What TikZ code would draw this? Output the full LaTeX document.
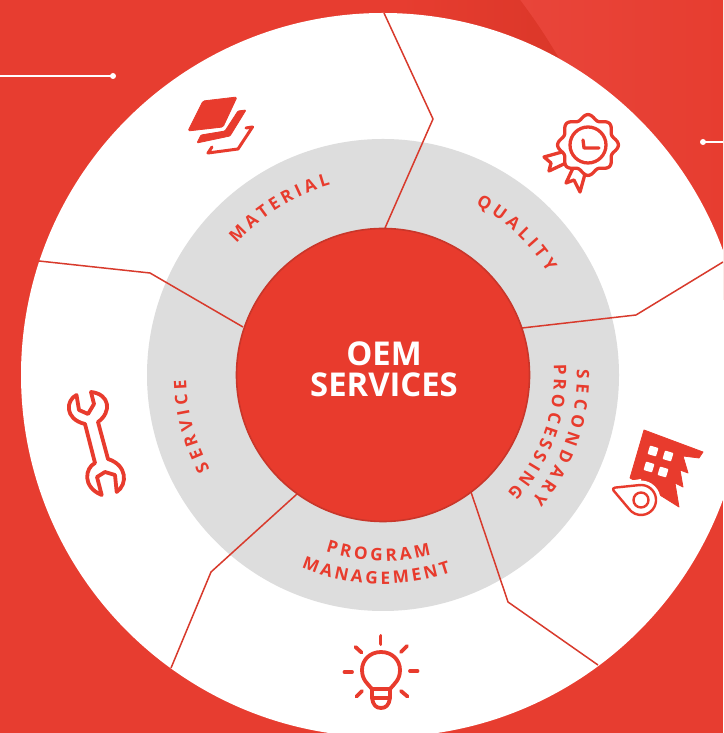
\documentclass[tikz,border=0pt]{standalone}
\usepackage{fontspec}
\setmainfont{Open Sans}
\usetikzlibrary{decorations.text}
\definecolor{brand}{HTML}{E83B2D}
\definecolor{bgbase}{HTML}{E73D30}
\definecolor{bglight}{HTML}{E8453A}
\definecolor{bgdark}{HTML}{DB3729}
\definecolor{branddark}{HTML}{C9362A}
\definecolor{linered}{HTML}{D83A2C}
\definecolor{ringgray}{HTML}{DDDDDD}
\newcommand{\lab}{\fontsize{17.2}{17.2}\selectfont\bfseries}
\tikzset{
  x=1pt,y=1pt,
  sector/.style={draw=linered,line width=1.5pt,line join=miter},
  icon/.style={draw=brand,line width=3.8pt,line cap=round,line join=round},
  iconfill/.style={fill=brand,draw=brand,line width=.8pt,line join=round},
  leader/.style={draw=white,line width=1.6pt},
  pip/.style={fill=white,draw=none},
  titletext/.style={text=white,font=\fontsize{32.8}{32.8}\selectfont\bfseries,inner sep=0pt},
}
\newcommand{\arclabel}[4]{%
  \path[decorate,decoration={text along path,text={|\lab\color{brand}|#1},text align={fit to path}}]
    (383,358) ++(#2:#4) arc[start angle=#2,end angle=#3,radius=#4];
}
\begin{document}
\begin{tikzpicture}[x=1pt,y=1pt]
\useasboundingbox (0,0) rectangle (723,733);
\clip (0,0) rectangle (723,733);
\fill[bgbase] (0,0) rectangle (723,733);
\begin{scope}[shift={(0,733)},yscale=-1]
  \shade[left color=bglight,right color=bgbase] (520,0) .. controls (535,20) and (545,35) .. (560,60) -- (723,300) -- (723,0) -- cycle;
  \shade[left color=bgbase,right color=bgdark] (400,0) -- (520,0) .. controls (535,20) and (545,35) .. (560,60) -- (400,60) -- cycle;
  \coordinate (c) at (383,375);
  \fill[white] (c) circle[radius=362];
  \fill[ringgray] (c) circle[radius=236];
  % leader lines
  \coordinate (la) at (0,76); \coordinate (lb) at (113,76);
  \coordinate (ra) at (703,142); \coordinate (rb) at (723,142);
  \draw[leader] (la) -- (lb);
  \fill[pip] (lb) circle[radius=3];
  \draw[leader] (ra) -- (rb);
  \fill[pip] (ra) circle[radius=3];
  % sector boundaries
  \coordinate (s1a) at (384,13);  \coordinate (s1b) at (433,119); \coordinate (s1c) at (385,228);
  \coordinate (s2a) at (723,262); \coordinate (s2b) at (636,315); \coordinate (s2c) at (522,328);
  \coordinate (s3a) at (598,665); \coordinate (s3b) at (508,602); \coordinate (s3c) at (471,492);
  \coordinate (s4a) at (171,668); \coordinate (s4b) at (211,572); \coordinate (s4c) at (297,494);
  \coordinate (s5a) at (39,261);  \coordinate (s5b) at (150,273); \coordinate (s5c) at (243,327);
  \draw[sector] (s1a) -- (s1b) -- (s1c);
  \draw[sector] (s2a) -- (s2b) -- (s2c);
  \draw[sector] (s3a) -- (s3b) -- (s3c);
  \draw[sector] (s4a) -- (s4b) -- (s4c);
  \draw[sector] (s5a) -- (s5b) -- (s5c);
  \filldraw[fill=brand,draw=branddark,line width=1.6pt] (c) circle[radius=146.5];
  % material icon
  \fill[iconfill,rounded corners=1.5pt] (203,101) -- (237,97) -- (223,127) -- (188,131) -- cycle;
  \fill[iconfill,rounded corners=1pt] (238,111) -- (246,110) -- (230,136) -- (197,143) -- (201,135) -- (225,131) -- cycle;
  \draw[brand,line width=3pt,line join=round,line cap=round] (212,147) -- (208,153) -- (238,149) -- (252.5,127) -- (246,128);
  % quality icon
  \draw[icon,fill=white,line width=3.3pt] (562,152) -- (544,157) -- (551,163) -- (549,171) -- (566,163);
  \draw[icon,fill=white,line width=3.3pt] (573,168) -- (566,183) -- (574,180) -- (580,192) -- (585,174);
  \draw[icon,fill=white,line width=3.3pt] plot[domain=0:360,samples=160,smooth] ({588+(28+2.4*cos(8*\x))*cos(\x)},{145+(28+2.4*cos(8*\x))*sin(\x)}) -- cycle;
  \draw[icon,line width=3.3pt] (588,145) circle[radius=18];
  \draw[icon,line width=3.3pt] (583,140) -- (584,148) -- (599,148);
  % factory icon
  \fill[iconfill] (644,430) -- (703,452) -- (699,458) -- (683,456) -- (688,473) -- (680,470) -- (683,487) -- (675,483) -- (679,507) -- (655,492) -- (630,478) -- cycle;
  \foreach \wx/\wy in {653/451,668/456,649/467,663/472}
    \fill[white,rotate around={17:(\wx,\wy)},rounded corners=.8pt] (\wx-4.4,\wy-4.4) rectangle (\wx+4.4,\wy+4.4);
  \fill[white] (641,500) circle[radius=19.5];
  \fill[white] (610,484) -- (641,479) -- (641,520) -- cycle;
  \draw[brand,line width=2.4pt,line join=round,fill=white] (615,487.6) -- (639.2,485.1) arc[start angle=-97,end angle=144.7,radius=15] -- (613.5,490.5) .. controls (612.5,489) and (613,488) .. (615,487.6) -- cycle;
  \draw[brand,line width=2.4pt] (641,500) circle[radius=7.5];
  % bulb icon
  \draw[icon] (372,689) .. controls (368,684) and (362,680) .. (362,670) .. controls (362,660) and (370,652) .. (381,652) .. controls (392,652) and (400,660) .. (400,670) .. controls (400,680) and (394,684) .. (390,689) -- cycle;
  \draw[icon] (372,689) -- (372,698) -- (390,698) -- (390,689);
  \draw[icon] (372,698) .. controls (373,705) and (376,708) .. (381,708) .. controls (386,708) and (389,705) .. (390,698);
  \draw[icon] (380.5,636) -- (380.5,644);
  \draw[icon] (344.5,672) -- (352,672);
  \draw[icon] (410,671) -- (417.5,671);
  \draw[icon] (355.5,647) -- (361.5,652.5);
  \draw[icon] (407,646) -- (401,652);
  \draw[icon] (362,691) -- (356.5,696.5);
  \draw[icon] (401,691) -- (407.5,696.5);
  % wrench icon
  \draw[icon] (76.5,395) .. controls (66,400) and (64,419) .. (85,424) -- (95,463) .. controls (85,468) and (82,487) .. (101.7,495) -- (97,477) -- (105,472) -- (115,475) -- (116.7,492) .. controls (128,484) and (127,465) .. (108,459) -- (98,422) .. controls (112,412) and (110,394) .. (91,392) -- (94,404) -- (88,414) -- (79,410) -- cycle;
\end{scope}
\node[titletext] (oem) at (384,379) {OEM};
\node[titletext] (services) at (384,348) {SERVICES};
\arclabel{MATERIAL}{138}{105.5}{197}
\arclabel{QUALITY}{61.5}{32}{194}
\arclabel{SECONDARY}{1.5}{-40}{194}
\arclabel{PROCESSING}{3.5}{-43.5}{171}
\arclabel{PROGRAM}{252}{285}{186}
\arclabel{MANAGEMENT}{247}{289}{209}
\arclabel{SERVICE}{208.5}{181.5}{197}
\end{tikzpicture}
\end{document}
